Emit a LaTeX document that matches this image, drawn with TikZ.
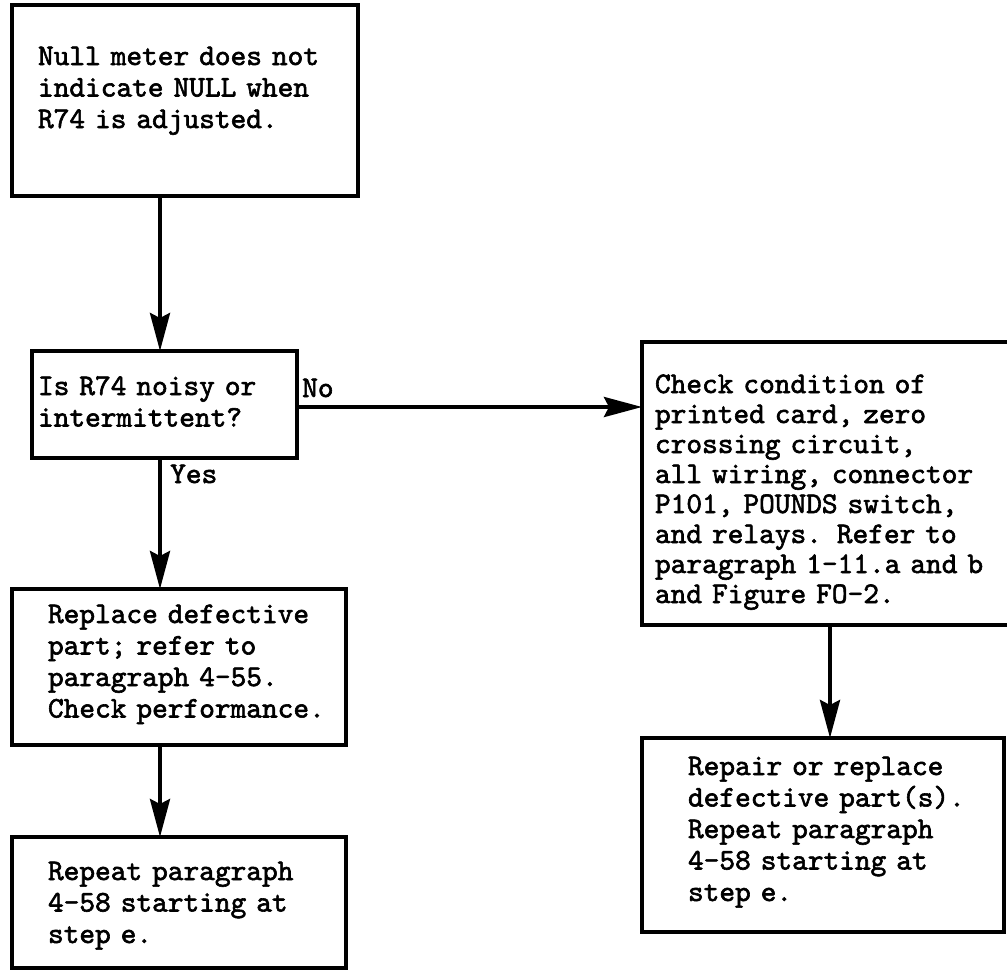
\documentclass[tikz,border=0pt]{standalone}
\usetikzlibrary{arrows.meta}
\font\tw="[lmmono10-regular]:embolden=2" at 29.9pt
\newcommand\twfont{\tw\normalbaselineskip=31.5pt\baselineskip=31.5pt\relax}
\newcommand\twfontc{\tw\normalbaselineskip=30pt\baselineskip=30pt\relax}
\tikzset{
  box/.style={draw, line width=3.5pt, outer sep=0pt, inner ysep=0pt,
    anchor=base west, align=left, font=\twfont},
  lbl/.style={anchor=base west, inner sep=0pt, font=\tw},
  arr/.style={line width=4pt, -{Stealth[length=38pt,width=20pt,inset=5pt]}},
}
\begin{document}
\begin{tikzpicture}[x=1pt,y=-1pt]
\fill[white] (0,0) rectangle (1007,970);
\useasboundingbox (0,0) rectangle (1007,970);
\clip (0,0) rectangle (1007,970);

\node[box, inner xsep=26pt, text width=294pt, text height=60pt, text depth=131pt] (n1) at (12,65)
  {\mbox{Null meter does not}\\\mbox{indicate NULL when}\\\mbox{R74 is adjusted.}};
\node[box, inner xsep=6pt, text width=253pt, text height=44pt, text depth=63pt] (n2) at (32,395)
  {\mbox{Is R74 noisy or}\\\mbox{intermittent?}};
\node[box, font=\twfontc, inner xsep=13pt, text width=560pt, text height=51pt, text depth=232pt] (n3) at (642,393)
  {\mbox{Check condition of}\\\mbox{printed card, zero}\\\mbox{crossing circuit,}\\\mbox{all wiring, connector}\\\mbox{P101, POUNDS switch,}\\\mbox{and relays.  Refer to}\\\mbox{paragraph 1-11.a and b}\\\mbox{and Figure FO-2.}};
\node[box, inner xsep=36pt, text width=262pt, text height=34pt, text depth=122pt] (n4) at (12,623)
  {\mbox{Replace defective}\\\mbox{part; refer to}\\\mbox{paragraph 4-55.}\\\mbox{Check performance.}};
\node[box, inner xsep=36pt, text width=262pt, text height=43pt, text depth=88pt] (n5) at (12,880)
  {\mbox{Repeat paragraph}\\\mbox{4-58 starting at}\\\mbox{step e.}};
\node[box, inner xsep=46pt, text width=270pt, text height=37pt, text depth=157pt] (n6) at (642,775)
  {\mbox{Repair or replace}\\\mbox{defective part(s).}\\\mbox{Repeat paragraph}\\\mbox{4-58 starting at}\\\mbox{step e.}};

\node[lbl] (no) at (302,397) {No};
\node[lbl] (yes) at (170,483) {Yes};

\coordinate (xa) at (160,0);
\coordinate (xb) at (830,0);
\coordinate (ya) at (0,407);
\draw[arr] (n1.south -| xa) -- (n2.north -| xa);
\draw[arr] (n2.south -| xa) -- (n4.north -| xa);
\draw[arr] (n4.south -| xa) -- (n5.north -| xa);
\draw[arr] (n2.east |- ya) -- (n3.west |- ya);
\draw[arr] (n3.south -| xb) -- (n6.north -| xb);
\end{tikzpicture}
\end{document}
